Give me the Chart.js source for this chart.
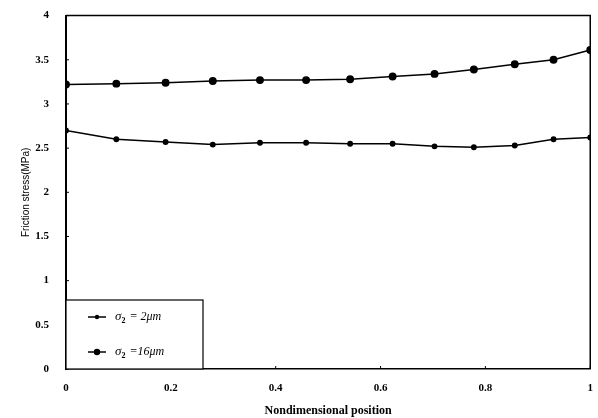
<!DOCTYPE html>
<html>
<head>
<meta charset="utf-8">
<title>Friction stress</title>
<style>
  html, body { margin: 0; padding: 0; background: #fff; }
  #wrap { width: 598px; height: 418px; position: relative; }
</style>
</head>
<body>
<div id="wrap"><canvas id="myChart" width="598" height="418"></canvas></div>
<script src="https://cdn.jsdelivr.net/npm/chart.js"></script>
<script>
// nondimensional positions along the contact
const positions = [0, 0.096, 0.19, 0.28, 0.37, 0.458, 0.542, 0.623, 0.703, 0.778, 0.856, 0.93, 1.0];

// friction stress (MPa)
const stressSigma2 = [2.70, 2.60, 2.57, 2.54, 2.56, 2.56, 2.55, 2.55, 2.52, 2.51, 2.53, 2.60, 2.62];
const stressSigma16 = [3.22, 3.23, 3.24, 3.26, 3.27, 3.27, 3.28, 3.31, 3.34, 3.39, 3.45, 3.50, 3.61];

const seriesLabels = ['\u03c3\u2082 = 2\u03bcm', '\u03c3\u2082 =16\u03bcm'];
const xTicks = [0, 0.2, 0.4, 0.6, 0.8, 1];
const yTicks = [0, 0.5, 1, 1.5, 2, 2.5, 3, 3.5, 4];

const toPoints = values => values.map((v, i) => ({ x: positions[i], y: v }));

const tickFont = { family: 'Liberation Serif', size: 11, weight: 'bold' };

// frame, inward ticks and the boxed legend inside the plot
const framePlugin = {
    id: 'frame',
    afterDraw(chart) {
        const ctx = chart.ctx;
        const a = chart.chartArea;
        const xs = chart.scales.x;
        const ys = chart.scales.y;
        ctx.save();
        ctx.strokeStyle = '#000';
        ctx.lineWidth = 1.5;
        ctx.beginPath();
        ctx.moveTo(a.left, a.top);
        ctx.lineTo(a.right, a.top);
        ctx.lineTo(a.right, a.bottom);
        ctx.stroke();

        ctx.lineWidth = 1;
        ctx.beginPath();
        yTicks.forEach(t => {
            const py = ys.getPixelForValue(t);
            ctx.moveTo(a.left, py);
            ctx.lineTo(a.left + 3, py);
        });
        xTicks.forEach(t => {
            const px = xs.getPixelForValue(t);
            ctx.moveTo(px, a.bottom);
            ctx.lineTo(px, a.bottom - 3);
        });
        ctx.stroke();

        // legend box
        const bx = a.left, by = 300, bw = 137, bh = a.bottom - 300;
        ctx.fillStyle = '#fff';
        ctx.fillRect(bx, by, bw, bh);
        ctx.lineWidth = 1.2;
        ctx.strokeRect(bx, by, bw, bh);

        const rows = [317, 352];
        chart.data.datasets.forEach((ds, i) => {
            const yy = rows[i];
            ctx.lineWidth = 1.5;
            ctx.beginPath();
            ctx.moveTo(bx + 22, yy);
            ctx.lineTo(bx + 40, yy);
            ctx.stroke();
            ctx.fillStyle = '#000';
            ctx.beginPath();
            ctx.arc(bx + 31, yy, ds.pointRadius, 0, Math.PI * 2);
            ctx.fill();

            // sigma with a readable subscript, then the rest of the label
            ctx.textBaseline = 'middle';
            ctx.textAlign = 'left';
            let tx = bx + 49;
            ctx.font = 'italic 13px "Liberation Serif"';
            ctx.fillText(ds.label.charAt(0), tx, yy);
            tx += ctx.measureText(ds.label.charAt(0)).width;
            ctx.font = 'bold 8px "Liberation Serif"';
            ctx.fillText('2', tx, yy + 4);
            tx += ctx.measureText('2').width + 1;
            ctx.font = 'italic 12px "Liberation Serif"';
            ctx.fillText(ds.label.slice(2), tx, yy);
        });
        ctx.restore();
    }
};

new Chart(document.getElementById('myChart'), {
    type: 'line',
    data: {
        datasets: [
            {
                label: seriesLabels[0],
                data: toPoints(stressSigma2),
                borderColor: '#000',
                backgroundColor: '#000',
                borderWidth: 1.5,
                pointRadius: 2.2,
                pointHoverRadius: 2.2,
                tension: 0
            }, {
                label: seriesLabels[1],
                data: toPoints(stressSigma16),
                borderColor: '#000',
                backgroundColor: '#000',
                borderWidth: 1.5,
                pointRadius: 3.2,
                pointHoverRadius: 3.2,
                tension: 0
            }
        ]
    },
    options: {
        responsive: false,
        animation: false,
        layout: { padding: { top: 12, right: 4, left: 0, bottom: 0 } },
        plugins: {
            legend: { display: false },
            tooltip: { enabled: false }
        },
        scales: {
            x: {
                type: 'linear',
                min: 0,
                max: 1,
                afterBuildTicks: s => { s.ticks = xTicks.map(v => ({ value: v })); },
                afterFit: s => { s.height = 49; },
                grid: { display: false },
                border: { color: '#000', width: 1.5 },
                ticks: {
                    color: '#000',
                    font: tickFont,
                    padding: 5,
                    maxRotation: 0,
                    callback: v => String(v)
                },
                title: {
                    display: true,
                    text: 'Nondimensional position',
                    color: '#000',
                    font: { family: 'Liberation Serif', size: 12, weight: 'bold' },
                    padding: { top: 4, bottom: 0 }
                }
            },
            y: {
                min: 0,
                max: 4,
                afterBuildTicks: s => { s.ticks = yTicks.map(v => ({ value: v })); },
                afterFit: s => { s.width = 66; },
                grid: { display: false },
                border: { color: '#000', width: 2 },
                ticks: {
                    color: '#000',
                    font: tickFont,
                    padding: 9,
                    callback: v => String(v)
                },
                title: {
                    display: true,
                    text: 'Friction stress(MPa)',
                    color: '#000',
                    font: { family: 'Liberation Sans', size: 10 },
                    padding: { top: 20, bottom: 10 }
                }
            }
        }
    },
    plugins: [framePlugin]
});
</script>
</body>
</html>
